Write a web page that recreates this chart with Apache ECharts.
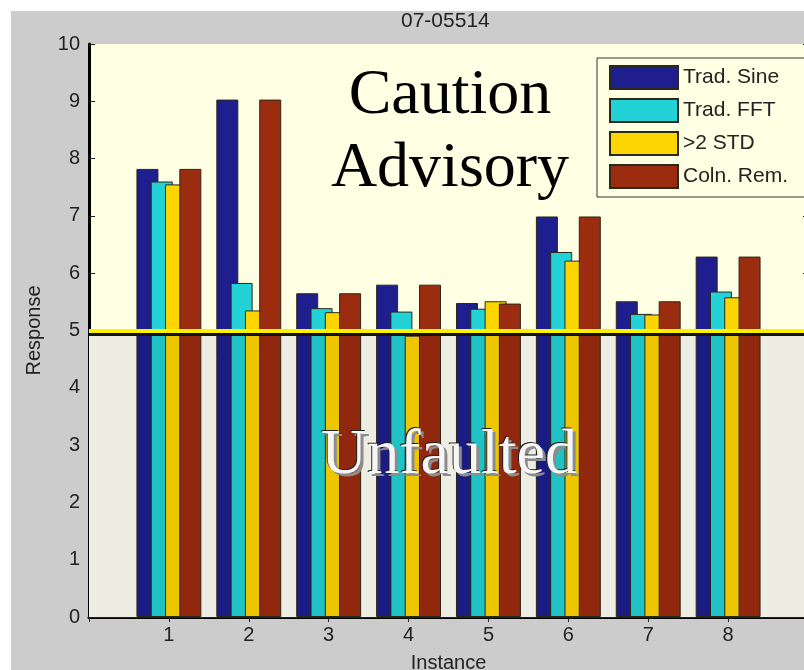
<!DOCTYPE html>
<html>
<head>
<meta charset="utf-8">
<title>07-05514</title>
<script src="https://cdn.jsdelivr.net/npm/echarts@6/dist/echarts.min.js"></script>
<style>
  html, body { margin: 0; padding: 0; background: #fff; }
  #chart { position: absolute; left: 11px; top: 11px; width: 793px; height: 659px; }
</style>
</head>
<body>
<div id="chart"></div>
<script>
// categories: blank slots at both ends so the axis runs 0..9
const instances = ['', '1', '2', '3', '4', '5', '6', '7', '8', '']
const seriesNames = ['Trad. Sine', 'Trad. FFT', '>2 STD', 'Coln. Rem.']
const tradSine = ['-', 7.82, 9.03, 5.65, 5.80, 5.48, 6.99, 5.51, 6.29, '-']
const tradFFT = ['-', 7.60, 5.83, 5.39, 5.33, 5.38, 6.37, 5.29, 5.68, '-']
const std2 = ['-', 7.55, 5.35, 5.32, 4.91, 5.51, 6.22, 5.28, 5.58, '-']
const colnRem = ['-', 7.82, 9.03, 5.65, 5.80, 5.47, 6.99, 5.51, 6.29, '-']
const colors = ['#1E1E8E', '#22D2D6', '#FFD500', '#9C2C10']
const limit = 5
const yMin = 0
const yMax = 10

const sans = '"Liberation Sans", Arial, sans-serif'
const serif = '"Liberation Serif", "Times New Roman", serif'

const chart = echarts.init(document.getElementById('chart'))

const barSeries = [tradSine, tradFFT, std2, colnRem].map((data, i) => ({
  name: seriesNames[i],
  type: 'bar',
  data: data,
  barWidth: 22,
  barGap: '-35%',
  itemStyle: { color: colors[i], borderColor: '#2a2a1a', borderWidth: 1 }
}))

// lower "Unfaulted" zone: pale fill behind the bars ...
barSeries[0].markArea = {
  silent: true,
  itemStyle: { color: '#FFFFF5' },
  data: [[{ yAxis: yMin }, { yAxis: limit }]]
}
// ... and a faint grey veil over them
barSeries[3].markArea = {
  silent: true,
  z: 3,
  itemStyle: { color: 'rgba(0,0,0,0.07)' },
  data: [[{ yAxis: yMin }, { yAxis: limit }]]
}
// threshold line, yellow with a dark edge under it
barSeries[3].markLine = {
  silent: true,
  symbol: 'none',
  z: 10,
  label: { show: false },
  lineStyle: {
    color: '#FFF000',
    width: 4,
    type: 'solid',
    shadowColor: '#111',
    shadowBlur: 0,
    shadowOffsetY: 3
  },
  data: [{ yAxis: limit }]
}

const bigText = (text, x, y, extra) => ({
  type: 'text',
  z: 100,
  x: x,
  y: y,
  style: Object.assign({ text: text, align: 'center', verticalAlign: 'middle', font: '64px ' + serif, fill: '#000' }, extra)
})

chart.setOption({
  backgroundColor: '#CCCCCC',
  animation: false,
  title: {
    text: '07-05514',
    left: 390,
    top: 0,
    padding: 0,
    textStyle: { fontFamily: sans, fontSize: 21, fontWeight: 'normal', color: '#222' }
  },
  legend: {
    orient: 'vertical',
    left: 586,
    top: 47,
    padding: [7, 18, 8, 12],
    itemWidth: 68,
    itemHeight: 23,
    itemGap: 8,
    backgroundColor: '#FFFFE4',
    borderColor: '#333',
    borderWidth: 1,
    borderRadius: 0,
    icon: 'rect',
    data: seriesNames,
    textStyle: { fontFamily: sans, fontSize: 21, color: '#222' }
  },
  grid: {
    left: 78,
    right: -4,
    top: 33,
    bottom: 53,
    outerBoundsMode: 'none',
    show: true,
    backgroundColor: '#FFFFE4',
    borderWidth: 0
  },
  xAxis: [
    {
      type: 'category',
      data: instances,
      boundaryGap: false,
      name: 'Instance',
      nameLocation: 'middle',
      nameGap: 36,
      nameTextStyle: { fontFamily: sans, fontSize: 20, color: '#222' },
      axisLine: { lineStyle: { color: '#000', width: 3 } },
      axisTick: { inside: true, length: 5, interval: 0, lineStyle: { color: '#222' } },
      axisLabel: { interval: 0, margin: 8, fontFamily: sans, fontSize: 20, color: '#222' },
      splitLine: { show: false }
    },
    {
      type: 'category',
      data: instances,
      boundaryGap: false,
      position: 'top',
      axisLine: { lineStyle: { color: '#222', width: 2 } },
      axisTick: { inside: true, length: 5, interval: 0, lineStyle: { color: '#222' } },
      axisLabel: { show: false },
      splitLine: { show: false }
    }
  ],
  yAxis: [
    {
      type: 'value',
      min: yMin,
      max: yMax,
      interval: 1,
      name: 'Response',
      nameLocation: 'middle',
      nameGap: 45,
      nameTextStyle: { fontFamily: sans, fontSize: 20, color: '#222' },
      axisLine: { show: true, lineStyle: { color: '#000', width: 3 } },
      axisTick: { show: true, inside: true, length: 6, lineStyle: { color: '#222' } },
      axisLabel: { margin: 9, fontFamily: sans, fontSize: 20, color: '#222' },
      splitLine: { show: false }
    },
    {
      type: 'value',
      min: yMin,
      max: yMax,
      interval: 1,
      position: 'right',
      axisLine: { show: true, lineStyle: { color: '#222', width: 1 } },
      axisTick: { show: true, inside: true, length: 5, lineStyle: { color: '#222' } },
      axisLabel: { show: false },
      splitLine: { show: false }
    }
  ],
  graphic: [
    bigText('Caution', 439, 85),
    bigText('Advisory', 439, 158),
    // embossed white label: grey drop shadow, dark edge, white face
    bigText('Unfaulted', 441, 448, { fill: '#8C8C8C' }),
    bigText('Unfaulted', 437, 444, { fill: '#222' }),
    bigText('Unfaulted', 438, 445, { fill: '#F6F6F6' })
  ],
  series: barSeries
})
</script>
</body>
</html>
